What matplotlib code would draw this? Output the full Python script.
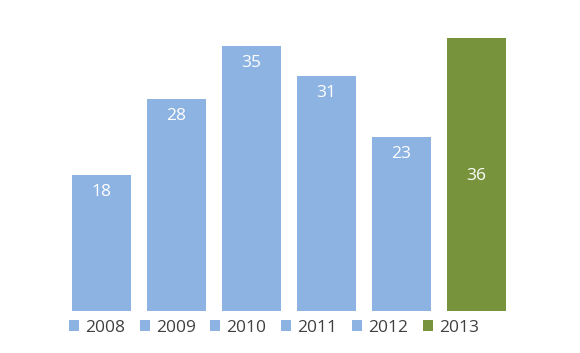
import matplotlib
matplotlib.use("Agg")
import matplotlib.pyplot as plt
from matplotlib.patches import Patch

years = ["2008", "2009", "2010", "2011", "2012", "2013"]
values = [18, 28, 35, 31, 23, 36]
colors = ["#8DB3E2"] * 5 + ["#77933C"]

plt.rcParams['font.family'] = ['Open Sans', 'DejaVu Sans']

fig = plt.figure(figsize=(5.8, 3.53), dpi=100)
ax = fig.add_axes([64/580, 1-311/353, 450/580, 303/353])
x = range(len(years))
bars = ax.bar(x, values, width=0.795, color=colors)
ax.set_xlim(-0.5, len(years)-0.5)
ax.set_ylim(0, 40)
ax.axis('off')

for i, (b, v) in enumerate(zip(bars, values)):
    if i == len(values) - 1:
        ax.annotate(str(v), (b.get_x()+b.get_width()/2, v/2), xytext=(0, -1.5),
                    textcoords='offset pixels', ha='center', va='center',
                    color='white', fontsize=12.5)
    else:
        ax.annotate(str(v), (b.get_x()+b.get_width()/2, v), xytext=(0, -17),
                    textcoords='offset pixels', ha='center', va='center',
                    color='white', fontsize=12.5)

handles = [Patch(facecolor=c, edgecolor='none', label=y) for y, c in zip(years, colors)]
fig.legend(handles=handles, loc='center', bbox_to_anchor=(274/580, 1-328/353),
           ncol=6, frameon=False, fontsize=12.5, handlelength=0.58, handleheight=0.58,
           handletextpad=0.35, columnspacing=0.85, labelcolor='#404040',
           borderpad=0, borderaxespad=0)

fig.savefig("out.png", dpi=100)
